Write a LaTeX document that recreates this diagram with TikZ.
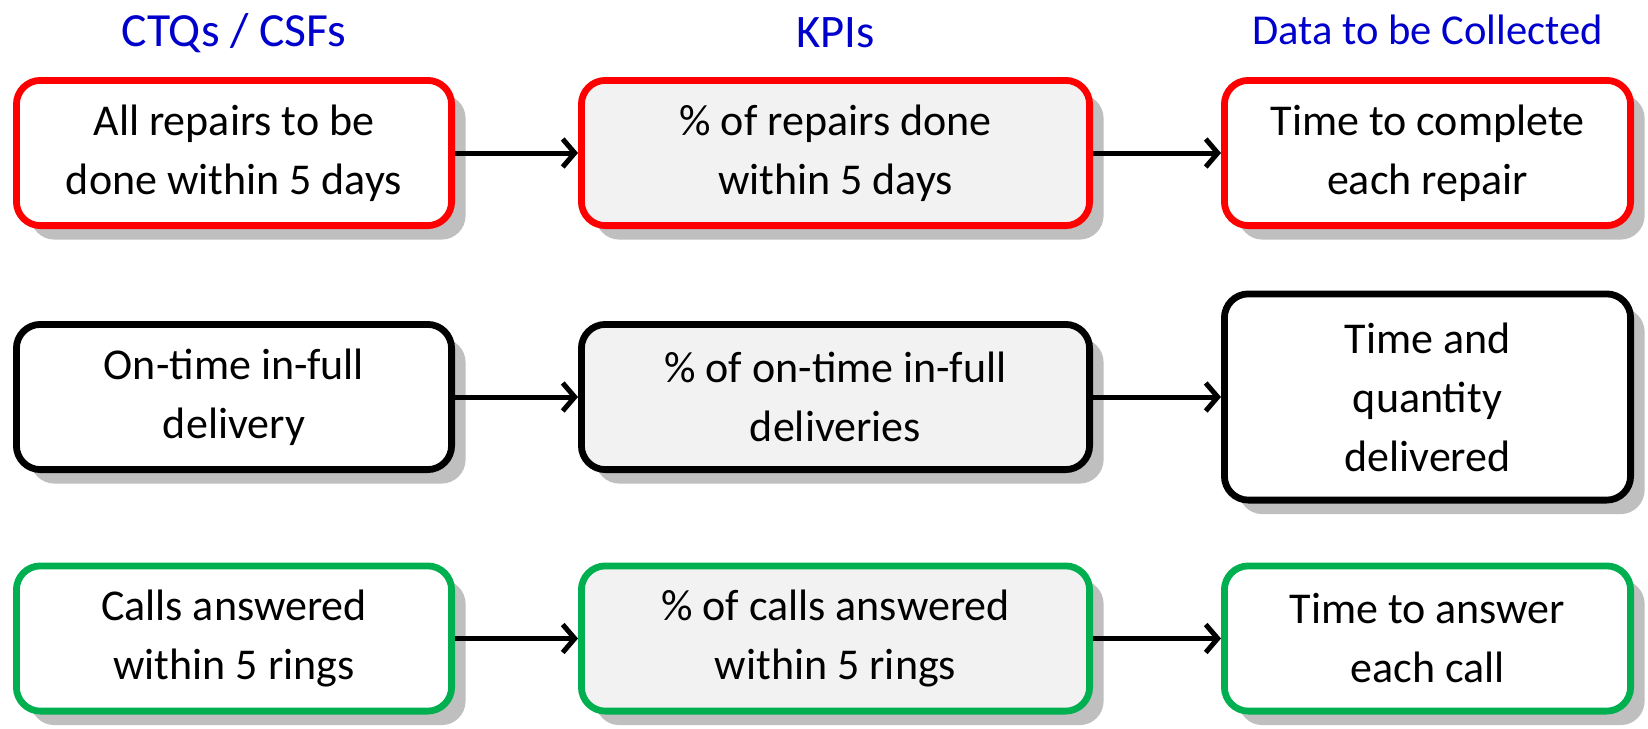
\documentclass[tikz,border=0pt]{standalone}
\usepackage{fontspec}
\setmainfont{Carlito}
\usetikzlibrary{positioning, arrows.meta, shadows}
\definecolor{hdrblue}{RGB}{0,0,204}
\definecolor{okgreen}{RGB}{0,176,80}
\definecolor{kpigray}{RGB}{242,242,242}
\definecolor{shadowgray}{RGB}{191,191,191}
\tikzset{
box/.style={draw, line width=3.4pt, rounded corners=12pt, fill=white, align=center,
  minimum height=72.6pt, inner sep=0pt, font=\fontsize{22pt}{29.5pt}\selectfont,
  drop shadow={shadow xshift=7pt, shadow yshift=-7pt, fill=shadowgray, opacity=1}}, % boxes with a grey shadow
ctq/.style={box, minimum width=217.6pt}, % left column
kpi/.style={box, minimum width=254.1pt, fill=kpigray}, % middle column
data/.style={box, minimum width=203.1pt}, % right column
redrow/.style={draw=red},
greenrow/.style={draw=okgreen},
header/.style={text=hdrblue, font=\fontsize{23.8pt}{28pt}\selectfont},
flow/.style={-{Straight Barb[length=6pt, width=14pt]}, line width=2.5pt}, % arrows between columns
}
\begin{document}
\begin{tikzpicture}[x=0.5pt, y=-0.5pt, on grid]
    \useasboundingbox (0,0) rectangle (1648,728);

    % first row
    \node[ctq, redrow] (c1) at (234,153) {All repairs to be\\done within 5 days};
    \node[kpi, redrow, right=300.75pt of c1] (k1) {\% of repairs done\\within 5 days};
    \node[data, redrow, right=296pt of k1] (d1) {Time to complete\\each repair};

    % second row
    \node[ctq, below=122pt of c1] (c2) {On-time in-full\\delivery};
    \node[kpi, below=122pt of k1] (k2) {\% of on-time in-full\\deliveries};
    \node[data, minimum height=103.1pt, below=122pt of d1] (d2) {Time and\\quantity\\delivered};

    % third row
    \node[ctq, greenrow, below=120.75pt of c2] (c3) {Calls answered\\within 5 rings};
    \node[kpi, greenrow, below=120.75pt of k2] (k3) {\% of calls answered\\within 5 rings};
    \node[data, greenrow, below=120.75pt of d2] (d3) {Time to answer\\each call};

    % column headers
    \node[header, above=60pt of c1] (h1) {CTQs / CSFs};
    \node[header, font=\fontsize{23.3pt}{28pt}\selectfont, above=60pt of k1] (h2) {KPIs};
    \node[header, font=\fontsize{21.3pt}{25pt}\selectfont, above=61.5pt of d1] (h3) {Data to be Collected};

    \draw[flow] (c1) -- (k1);
    \draw[flow] (k1) -- (d1);
    \draw[flow] (c2) -- (k2);
    \draw[flow] (k2) -- (d2);
    \draw[flow] (c3) -- (k3);
    \draw[flow] (k3) -- (d3);
\end{tikzpicture}
\end{document}
